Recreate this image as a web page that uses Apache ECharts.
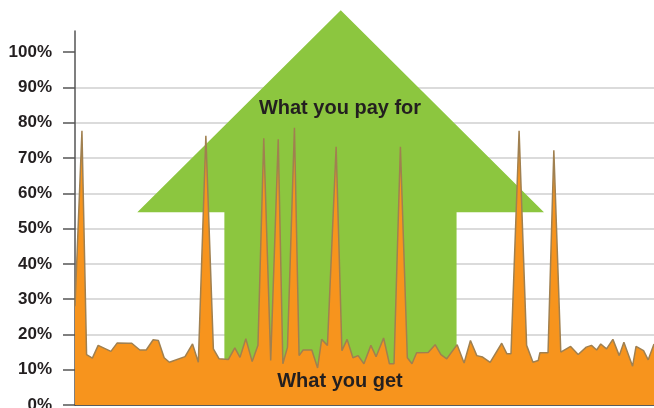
<!DOCTYPE html>
<html>
<head>
<meta charset="utf-8">
<script src="https://cdn.jsdelivr.net/npm/echarts@6/dist/echarts.min.js"></script>
<style>
  html, body { margin: 0; padding: 0; background: #fff; }
  #chart { width: 654px; height: 408px; }
</style>
</head>
<body>
<div id="chart"></div>
<script>
// time index (0..100) of each reading
const days = [
  0, 1.2, 2.0, 3.0, 4.0, 6.2, 7.3, 9.2, 9.8, 11.2,
  12.3, 13.5, 14.4, 15.4, 16.3, 19.0, 20.3, 21.3, 22.6, 23.9,
  24.9, 26.5, 27.6, 28.5, 29.5, 30.6, 31.6, 32.6, 33.8, 35.1,
  35.9, 36.7, 37.9, 38.7, 39.4, 40.9, 41.9, 42.6, 43.6, 45.1,
  46.1, 47.0, 48.0, 48.9, 49.9, 51.1, 52.0, 53.3, 54.3, 55.1,
  56.2, 57.4, 58.2, 59.0, 61.0, 62.2, 63.2, 64.2, 66.0, 67.2,
  68.3, 69.4, 70.4, 71.7, 73.7, 74.6, 75.3, 76.7, 78.0, 79.1,
  80.0, 80.3, 81.7, 82.7, 83.9, 85.6, 86.9, 88.3, 89.2, 90.1,
  90.8, 91.8, 92.9, 94.0, 94.8, 96.3, 96.9, 98.2, 99.0, 100
];
// what you get (%)
const share = [
  28, 77.7, 14.3, 13.3, 16.9, 15.2, 17.6, 17.5, 17.5, 15.6,
  15.6, 18.5, 18.3, 13.4, 12.1, 13.7, 17.3, 12.1, 76.3, 15.9,
  13.1, 12.9, 16.2, 13.5, 18.8, 12.3, 16.9, 75.6, 12.6, 75.3,
  11.7, 16.4, 78.6, 14.0, 15.6, 15.6, 10.5, 18.6, 16.9, 73.2,
  15.4, 18.6, 13.4, 14.0, 11.7, 16.9, 13.7, 19.0, 11.7, 11.7,
  73.2, 13.4, 11.7, 14.8, 14.9, 17.1, 14.3, 13.1, 17.1, 11.9,
  18.3, 14.0, 13.6, 12.1, 17.5, 14.5, 14.5, 77.7, 16.9, 12.1,
  12.6, 14.8, 14.8, 72.2, 15.0, 16.6, 14.3, 16.4, 16.9, 15.6,
  17.3, 15.9, 18.6, 14.0, 17.8, 11.0, 16.6, 15.4, 12.8, 17.3
];
// y axis ticks
const yTicks = [0, 10, 20, 30, 40, 50, 60, 70, 80, 90, 100];
// arrow outline in (day, %) terms
const arrowShape = [
  [45.9, 111.9], [81.0, 54.6], [65.9, 54.6], [65.9, 0],
  [25.8, 0], [25.8, 54.6], [10.76, 54.6]
];

const chart = echarts.init(document.getElementById("chart"));
const font = "'Liberation Sans', Arial, sans-serif";

chart.setOption({
  animation: false,
  grid: { left: 75, right: 0, top: 31, bottom: 3, outerBoundsMode: "none" },
  xAxis: {
    type: "value",
    min: 0,
    max: 100,
    axisLine: { show: true, lineStyle: { color: "#333", width: 1.5 } },
    axisTick: { show: false },
    axisLabel: { show: false },
    splitLine: { show: false }
  },
  yAxis: {
    type: "value",
    min: 0,
    max: 106,
    interval: 10,
    axisLine: { show: true, lineStyle: { color: "#555", width: 1.5 } },
    axisTick: {
      show: true,
      length: 12,
      customValues: yTicks,
      lineStyle: { color: "#555", width: 1.5 }
    },
    axisLabel: {
      customValues: yTicks,
      formatter: "{value}%",
      margin: 23,
      color: "#231f20",
      fontFamily: font,
      fontWeight: "bold",
      fontSize: 17
    },
    splitLine: {
      show: true,
      showMaxLine: false,
      lineStyle: { color: "#cfcfcf", width: 1.5 }
    }
  },
  series: [
    {
      type: "line",
      data: days.map((d, i) => [d, share[i]]),
      symbol: "none",
      z: 3,
      lineStyle: { color: "#a08050", width: 1.5 },
      areaStyle: { color: "#f7941d", opacity: 1, origin: "start" }
    }
  ]
});

const pts = arrowShape.map(p => chart.convertToPixel({ gridIndex: 0 }, p));

chart.setOption({
  graphic: [
    {
      type: "polygon",
      z: 1,
      shape: { points: pts },
      style: { fill: "#8cc63f" }
    },
    {
      type: "text",
      z: 10,
      x: 340,
      y: 108,
      style: {
        text: "What you pay for",
        fill: "#231f20",
        font: "bold 20px " + font,
        textAlign: "center",
        textVerticalAlign: "middle"
      }
    },
    {
      type: "text",
      z: 10,
      x: 340,
      y: 381,
      style: {
        text: "What you get",
        fill: "#231f20",
        font: "bold 20px " + font,
        textAlign: "center",
        textVerticalAlign: "middle"
      }
    }
  ]
});
</script>
</body>
</html>
